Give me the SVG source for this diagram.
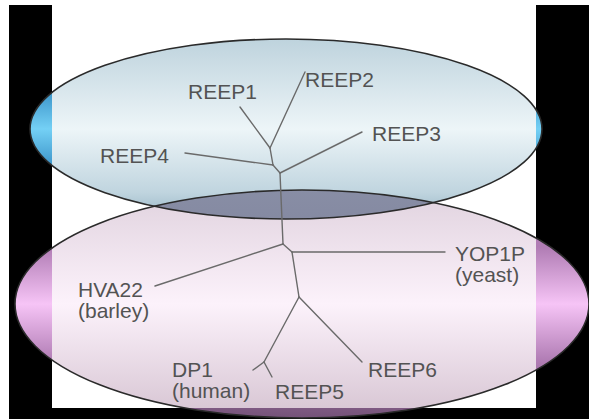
<svg xmlns="http://www.w3.org/2000/svg" width="589" height="419" viewBox="0 0 589 419">
<style>
.edge{fill:none;stroke:#6a6a6a;stroke-width:1.4;stroke-linecap:round}
.lbl{font-family:"Liberation Sans",Arial,sans-serif;font-size:21px;fill:#535353}
.rim{fill:none;stroke:#2a2a2a;stroke-width:1.6}
</style>
<defs>
<linearGradient id="topPale" x1="0" y1="0" x2="0" y2="1">
<stop offset="0" stop-color="#bed3dd"/>
<stop offset="0.5" stop-color="#edf5f8"/>
<stop offset="0.85" stop-color="#c0d5df"/>
<stop offset="1" stop-color="#98b6c6"/>
</linearGradient>
<linearGradient id="topSat" x1="0" y1="0" x2="0" y2="1">
<stop offset="0.25" stop-color="#3088c0"/>
<stop offset="0.5" stop-color="#74d0f5"/>
<stop offset="0.75" stop-color="#3088c0"/>
</linearGradient>
<linearGradient id="botPale" x1="0" y1="0" x2="0" y2="1">
<stop offset="0" stop-color="#e0d2de"/>
<stop offset="0.5" stop-color="#fcf2fb"/>
<stop offset="1" stop-color="#d6c4d2"/>
</linearGradient>
<linearGradient id="botSat" x1="0" y1="0" x2="0" y2="1">
<stop offset="0.25" stop-color="#b07cb4"/>
<stop offset="0.5" stop-color="#f6c4f6"/>
<stop offset="0.75" stop-color="#b07cb4"/>
<stop offset="1" stop-color="#745278"/>
</linearGradient>
<linearGradient id="lens" x1="0" y1="0" x2="0" y2="1">
<stop offset="0" stop-color="#98a0b4"/>
<stop offset="1" stop-color="#858aa2"/>
</linearGradient>
<clipPath id="inside"><rect x="52" y="0" width="484" height="408"/></clipPath>
<clipPath id="outside"><path clip-rule="evenodd" d="M9 5H589V419H9Z M52 0H536V408H52Z"/></clipPath>
<clipPath id="botClip"><ellipse cx="302" cy="304" rx="287" ry="114"/></clipPath>
</defs>
<rect width="589" height="419" fill="#fff"/>
<path fill="#000" fill-rule="evenodd" d="M9 5H589V419H9Z M52 5H536V408H52Z"/>

<g id="cluster-top">
<ellipse cx="286" cy="129" rx="256" ry="90" fill="url(#topSat)" clip-path="url(#outside)"/>
<ellipse cx="286" cy="129" rx="256" ry="90" fill="url(#topPale)" clip-path="url(#inside)"/>
</g>
<g id="cluster-bottom">
<ellipse cx="302" cy="304" rx="287" ry="114" fill="url(#botSat)" clip-path="url(#outside)"/>
<ellipse cx="302" cy="304" rx="287" ry="114" fill="url(#botPale)" clip-path="url(#inside)"/>
</g>
<g id="overlap">
<ellipse cx="286" cy="129" rx="256" ry="90" fill="url(#lens)" clip-path="url(#botClip)"/>
</g>
<g id="rims">
<ellipse class="rim" cx="286" cy="129" rx="256" ry="90"/>
<ellipse class="rim" cx="302" cy="304" rx="287" ry="114"/>
</g>

<g id="connectors">
<path class="edge" d="M270 148L305 72"/>
<path class="edge" d="M270 148L240 107"/>
<path class="edge" d="M270 148L273 165"/>
<path class="edge" d="M273 165L185 153"/>
<path class="edge" d="M273 165L280 173"/>
<path class="edge" d="M280 173L362 132"/>
<path class="edge" d="M280 173L283 244"/>
<path class="edge" d="M283 244L155 286"/>
<path class="edge" d="M283 244L292 252"/>
<path class="edge" d="M292 252L445 252"/>
<path class="edge" d="M292 252L299 297"/>
<path class="edge" d="M299 297L362 362"/>
<path class="edge" d="M299 297L264 362"/>
<path class="edge" d="M264 362L253 370"/>
<path class="edge" d="M264 362L272 377"/>
</g>

<g id="node-reep1"><text class="lbl" x="188" y="99">REEP1</text></g>
<g id="node-reep2"><text class="lbl" x="305" y="87">REEP2</text></g>
<g id="node-reep3"><text class="lbl" x="372" y="141">REEP3</text></g>
<g id="node-reep4"><text class="lbl" x="100" y="163">REEP4</text></g>
<g id="node-hva22"><text class="lbl" x="78" y="297">HVA22<tspan x="78" dy="21">(barley)</tspan></text></g>
<g id="node-yop1p"><text class="lbl" x="455" y="261">YOP1P<tspan x="455" dy="21">(yeast)</tspan></text></g>
<g id="node-reep6"><text class="lbl" x="368" y="377">REEP6</text></g>
<g id="node-dp1"><text class="lbl" x="172" y="377">DP1<tspan x="172" dy="21">(human)</tspan></text></g>
<g id="node-reep5"><text class="lbl" x="275" y="399">REEP5</text></g>
</svg>
